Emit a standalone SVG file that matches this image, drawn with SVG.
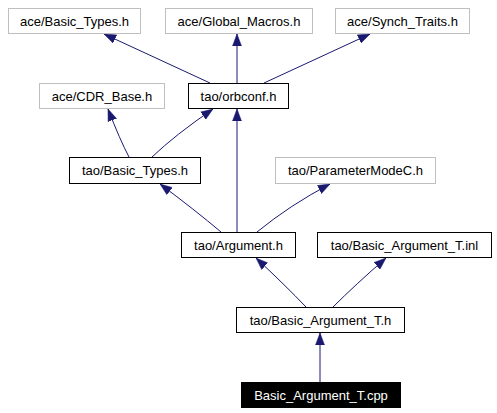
<svg xmlns="http://www.w3.org/2000/svg" width="497" height="413" viewBox="0 0 497 413">
<defs>
<style>
.n rect{fill:#fff;stroke:#000;stroke-width:1}
.g rect{fill:#fff;stroke:#bfbfbf;stroke-width:1}
.m rect{fill:#000;stroke:#000;stroke-width:1}
text{font-family:"Liberation Sans",Arial,sans-serif;font-size:13px;text-anchor:middle;fill:#000}
.m text{fill:#fff}
.e path{fill:none;stroke:#191970;stroke-width:1;marker-end:url(#a)}
</style>
<marker id="a" viewBox="0 0 12 10" refX="12" refY="5" markerWidth="12" markerHeight="10" markerUnits="userSpaceOnUse" orient="auto">
<path d="M0,0.5 L12,5 L0,9.5 z" fill="#191970" stroke="#191970" stroke-width="0.5"/>
</marker>
</defs>
<rect width="497" height="413" fill="#fff"/>
<g class="e">
<path d="M210,83 L104,34"/>
<path d="M237,83 L237,34"/>
<path d="M264,83 L370,34"/>
<path d="M129,157 Q120,140 108,109"/>
<path d="M152,157 Q175,135 213,109"/>
<path d="M237,232 L237,109"/>
<path d="M221,232 Q195,210 160,184"/>
<path d="M257,232 Q290,205 330,184"/>
<path d="M306,307 Q285,285 256,258"/>
<path d="M333,307 Q355,285 386,258"/>
<path d="M320,382 L320,333"/>
</g>
<g id="ace_basic_types" class="g"><rect x="8.5" y="8.5" width="132" height="25"/><text x="74.5" y="25.5">ace/Basic_Types.h</text></g>
<g id="ace_global_macros" class="g"><rect x="165.5" y="8.5" width="147" height="25"/><text x="239" y="25.5">ace/Global_Macros.h</text></g>
<g id="ace_synch_traits" class="g"><rect x="335.5" y="8.5" width="134" height="25"/><text x="402.5" y="25.5">ace/Synch_Traits.h</text></g>
<g id="ace_cdr_base" class="g"><rect x="39.5" y="83.5" width="125" height="25"/><text x="102" y="100.5">ace/CDR_Base.h</text></g>
<g id="tao_orbconf" class="n"><rect x="188.5" y="83.5" width="100" height="25"/><text x="238.5" y="100.5">tao/orbconf.h</text></g>
<g id="tao_basic_types" class="n"><rect x="69.5" y="157.5" width="131" height="26"/><text x="135" y="175">tao/Basic_Types.h</text></g>
<g id="tao_parametermodec" class="g"><rect x="275.5" y="157.5" width="160" height="26"/><text x="355.5" y="175">tao/ParameterModeC.h</text></g>
<g id="tao_argument" class="n"><rect x="181.5" y="232.5" width="114" height="25"/><text x="238.5" y="249.5">tao/Argument.h</text></g>
<g id="tao_basic_argument_t_inl" class="n"><rect x="317.5" y="232.5" width="174" height="25"/><text x="404.5" y="249.5">tao/Basic_Argument_T.inl</text></g>
<g id="tao_basic_argument_t_h" class="n"><rect x="236.5" y="307.5" width="168" height="25"/><text x="320.5" y="324.5">tao/Basic_Argument_T.h</text></g>
<g id="basic_argument_t_cpp" class="m"><rect x="241.5" y="382.5" width="159" height="25"/><text x="321" y="399.5">Basic_Argument_T.cpp</text></g>
</svg>
